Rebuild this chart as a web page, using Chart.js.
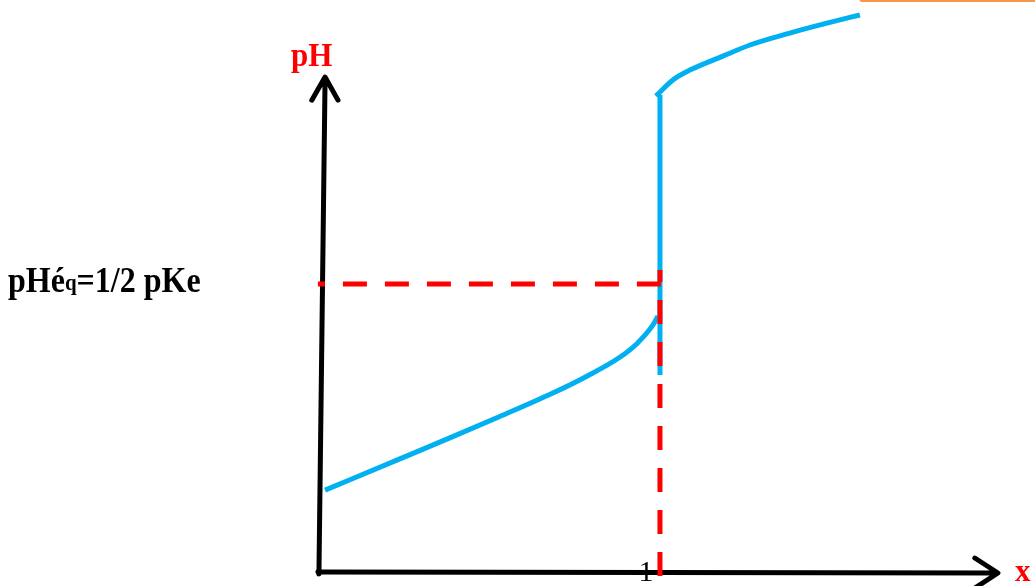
<!DOCTYPE html>
<html>
<head>
<meta charset="utf-8">
<script src="https://cdn.jsdelivr.net/npm/chart.js@4.4.1/dist/chart.umd.min.js"></script>
<style>
  body { margin: 0; background: #fff; }
  #wrap { width: 1035px; height: 586px; position: relative; }
</style>
</head>
<body>
<div id="wrap"><canvas id="chart"></canvas></div>
<script>
// titration curve (x = n base / n acid, pH)

const lowerX  = [0.015, 0.235, 0.382, 0.529, 0.685, 0.785, 0.882, 0.932, 0.979, 0.994]
const lowerPH = [1.99, 2.75, 3.26, 3.78, 4.35, 4.76, 5.22, 5.55, 6.0, 6.22]

const jumpX  = [1.0, 1.0]
const jumpPH = [4.79, 11.6]

const upperX  = [0.988, 1.038, 1.088, 1.185, 1.265, 1.382, 1.491, 1.588]
const upperPH = [11.57, 11.96, 12.20, 12.54, 12.81, 13.10, 13.34, 13.54]

// equivalence point
const xEq = 1
const pHeq = 7
const eqHorizX = [-0.006, 1.006]
const eqVertPH = [7.34, -0.34]

// axes (arrows)
const yAxisX  = [-0.003, 0.015, null, -0.024, 0.015, 0.053]
const yAxisPH = [-0.05, 11.96, null, 11.47, 12.03, 11.47]
const xAxisX  = [-0.006, 1.991, null, 1.926, 1.994, 1.926]
const xAxisPH = [0, -0.024, null, 0.34, -0.024, -0.39]

// stray orange stroke at the top edge
const orangeX  = [1.594, 2.12]
const orangePH = [13.916, 13.916]

const xTickLabels = ['1']

function pts(xs, ys) {
  return xs.map((x, i) => (x === null ? { x: null, y: null } : { x: x, y: ys[i] }))
}

const blue = '#00B0F0'
const red = '#FF0000'

const labels = {
  id: 'labels',
  afterDraw(chart) {
    const c = chart.ctx
    const xs = chart.scales.x
    const ys = chart.scales.y
    c.save()
    c.textBaseline = 'alphabetic'

    // pH (y axis title)
    c.fillStyle = red
    c.font = 'bold 31px "Liberation Serif"'
    c.textAlign = 'left'
    c.save()
    c.translate(291, 66)
    c.scale(1, 1.07)
    c.fillText('pH', 0, 0)
    c.restore()

    // x (x axis title)
    c.fillText('x', 1015, 581)

    // tick "1"
    c.fillStyle = '#000'
    c.font = '30px "Liberation Serif"'
    c.textAlign = 'center'
    c.fillText(xTickLabels[0], xs.getPixelForValue(xEq) - 14, 581)

    // pHéq = 1/2 pKe
    c.textAlign = 'left'
    c.save()
    c.translate(8, ys.getPixelForValue(pHeq) + 8)
    c.scale(1, 1.14)
    let x = 0
    c.font = 'bold 32px "Liberation Serif"'
    c.fillText('pHé', x, 0)
    x += c.measureText('pHé').width
    c.font = 'bold 21px "Liberation Serif"'
    c.fillText('q', x, -2)
    x += c.measureText('q').width
    c.font = 'bold 32px "Liberation Serif"'
    c.fillText('=1/2 pKe', x, 0)
    c.restore()
    c.restore()
  }
}

new Chart(document.getElementById('chart'), {
  type: 'line',
  data: {
    datasets: [
      {
        data: pts(eqHorizX, [pHeq, pHeq]),
        borderColor: red,
        borderWidth: 5,
        borderDash: [24, 18],
        borderDashOffset: 17,
        order: 0,
      },
      {
        data: pts([xEq, xEq], eqVertPH),
        borderColor: red,
        borderWidth: 5,
        borderDash: [24, 18],
        borderDashOffset: 12,
        order: 0,
      },
      {
        data: pts(lowerX, lowerPH),
        borderColor: blue,
        borderWidth: 5,
        cubicInterpolationMode: 'monotone',
        order: 1,
      },
      {
        data: pts(jumpX, jumpPH),
        borderColor: blue,
        borderWidth: 5,
        order: 1,
      },
      {
        data: pts(upperX, upperPH),
        borderColor: blue,
        borderWidth: 5,
        cubicInterpolationMode: 'monotone',
        order: 1,
      },
      {
        data: pts(yAxisX, yAxisPH),
        borderColor: '#000',
        borderWidth: 5,
        borderCapStyle: 'round',
        borderJoinStyle: 'round',
        spanGaps: false,
        order: 2,
      },
      {
        data: pts(xAxisX, xAxisPH),
        borderColor: '#000',
        borderWidth: 5,
        borderCapStyle: 'round',
        borderJoinStyle: 'round',
        spanGaps: false,
        order: 2,
      },
      {
        data: pts(orangeX, orangePH),
        borderColor: '#F79646',
        borderWidth: 5,
        borderCapStyle: 'round',
        clip: false,
        order: 3,
      },
    ],
  },
  options: {
    responsive: true,
    maintainAspectRatio: false,
    animation: false,
    layout: { padding: 0 },
    elements: {
      point: { radius: 0, hoverRadius: 0 },
      line: { fill: false },
    },
    plugins: {
      legend: { display: false },
      tooltip: { enabled: false },
    },
    scales: {
      x: { type: 'linear', display: false, min: -0.941, max: 2.103 },
      y: { type: 'linear', display: false, min: -0.34, max: 13.904 },
    },
  },
  plugins: [labels],
});
</script>
</body>
</html>
